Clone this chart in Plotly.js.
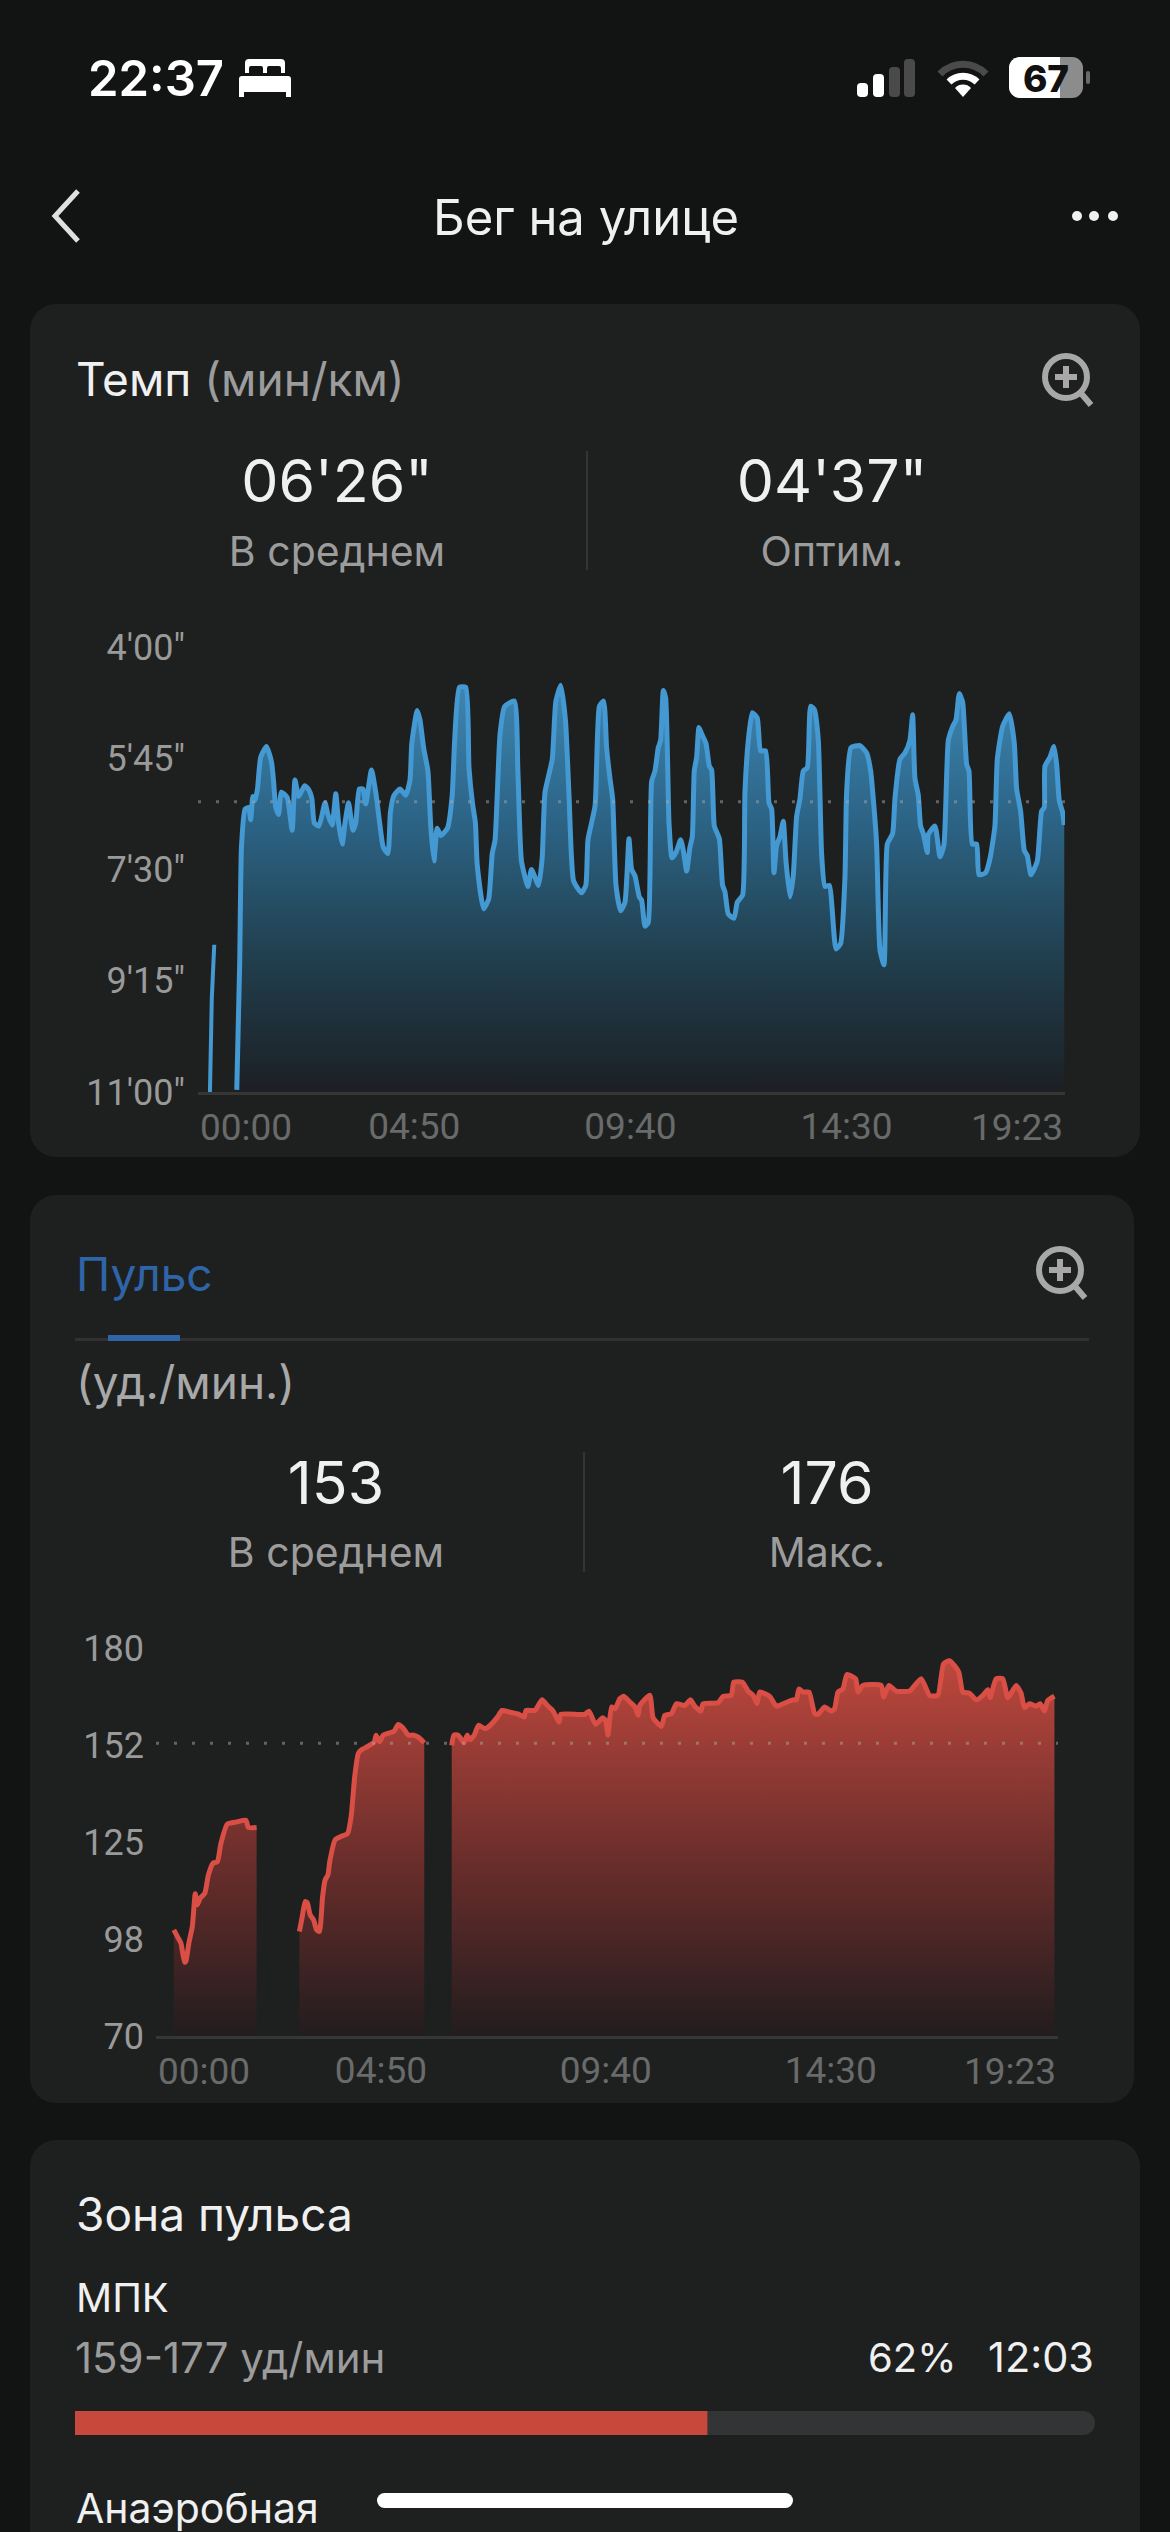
<!DOCTYPE html>
<html lang="ru"><head><meta charset="utf-8">
<script src="https://cdn.plot.ly/plotly-3.0.1.min.js"></script>
<style>
html,body{margin:0;padding:0;width:1170px;height:2532px;background:#121313;overflow:hidden;font-family:Inter,Roboto,sans-serif;color:#f0f0f0}
.card{position:absolute;background:#1e2020;border-radius:26px}
.t{position:absolute;line-height:1;white-space:nowrap;transform:translateY(-50%)}
.c{transform:translate(-50%,-50%)}
.g{color:#9c9c9c}
.big{font-size:59px}
.sub{font-size:41px;color:#9c9c9c}
.div{position:absolute;width:2px;background:#333535}
.plot{position:absolute;left:0;width:1170px}
svg{position:absolute;overflow:visible}
</style></head><body>
<div class="card" style="left:30px;top:304px;width:1110px;height:853px"></div>
<div class="card" style="left:30px;top:1195px;width:1104px;height:908px"></div>
<div class="card" style="left:30px;top:2140px;width:1110px;height:420px"></div>

<div class="t" style="left:88px;top:78px;font-size:49px;font-weight:600;color:#fff">22:37</div>
<svg style="left:239px;top:61px" width="52" height="36" viewBox="0 0 52 36"><path fill="#fff" d="M6 2a4 4 0 0 1 4-4h32a4 4 0 0 1 4 4v10h-4V7a2 2 0 0 0-2-2H30a2 2 0 0 0-2 2v5h-4V7a2 2 0 0 0-2-2H12a2 2 0 0 0-2 2v5H6zM3 15h46a3 3 0 0 1 3 3v18h-5v-5H5v5H0V18a3 3 0 0 1 3-3z"/></svg>
<svg style="left:857px;top:59px" width="58" height="38"><rect x="0" y="24" width="11" height="14" rx="4" fill="#fff"/><rect x="16" y="15" width="11" height="23" rx="4" fill="#fff"/><rect x="32" y="8" width="11" height="30" rx="4" fill="#4a4a4a"/><rect x="47" y="0" width="11" height="38" rx="4" fill="#4a4a4a"/></svg>
<svg style="left:937px;top:60px" width="52" height="37" viewBox="0 0 52 37"><path d="M3 14a32 32 0 0 1 46 0" fill="none" stroke="#4a4a4a" stroke-width="7"/><path d="M12 22a20 20 0 0 1 28 0" fill="none" stroke="#fff" stroke-width="7"/><path d="M26 37l-8-9a11 11 0 0 1 16 0z" fill="#fff"/></svg>
<svg style="left:1009px;top:57px" width="84" height="41"><rect x="0" y="0" width="74" height="41" rx="11" fill="#8c8c8c"/><path d="M11 0h40v41H11a11 11 0 0 1-11-11V11A11 11 0 0 1 11 0z" fill="#fff"/><rect x="77" y="14" width="4" height="13" rx="2" fill="#6a6a6a"/></svg>
<div class="t c" style="left:1046px;top:78px;font-size:37px;font-weight:800;color:#111">67</div>

<svg style="left:0;top:0" width="1170" height="300"><path d="M78 191L55 216L78 241" fill="none" stroke="#e0e0e0" stroke-width="5"/><circle cx="1077" cy="216" r="5" fill="#f0f0f0"/><circle cx="1094" cy="216" r="5" fill="#f0f0f0"/><circle cx="1113" cy="216" r="5" fill="#f0f0f0"/></svg>
<div class="t c" style="left:586px;top:217px;font-size:49px">Бег на улице</div>

<div class="t" style="left:76px;top:379px;font-size:46px">Темп <span class="g">(мин/км)</span></div>
<svg style="left:0;top:0" width="1170" height="1400"><g fill="none" stroke="#a8a8a8" stroke-width="6"><circle cx="1066" cy="377" r="21"/><path d="M1080 392L1091 405M1055 377h22M1066 366v22"/></g><g fill="none" stroke="#a8a8a8" stroke-width="6"><circle cx="1060" cy="1270" r="21"/><path d="M1074 1285L1085 1298M1049 1270h22M1060 1259v22"/></g></svg>
<div class="t c big" style="left:337px;top:480px">06'26"</div>
<div class="t c sub" style="left:337px;top:551px">В среднем</div>
<div class="t c big" style="left:832px;top:480px">04'37"</div>
<div class="t c sub" style="left:832px;top:551px">Оптим.</div>
<div class="div" style="left:586px;top:451px;height:119px"></div>

<div class="t" style="left:76px;top:1274px;font-size:46px;color:#2f65a8">Пульс</div>
<div style="position:absolute;left:75px;top:1338px;width:1014px;height:3px;background:#303232"></div>
<div style="position:absolute;left:108px;top:1335px;width:72px;height:6px;background:#2f65a8"></div>
<div class="t" style="left:76px;top:1382px;font-size:46px;color:#a8a8a8">(уд./мин.)</div>
<div class="t c big" style="left:336px;top:1482px">153</div>
<div class="t c sub" style="left:336px;top:1552px">В среднем</div>
<div class="t c big" style="left:827px;top:1482px">176</div>
<div class="t c sub" style="left:827px;top:1552px">Макс.</div>
<div class="div" style="left:583px;top:1452px;height:120px"></div>

<div class="t" style="left:76px;top:2214px;font-size:46px">Зона пульса</div>
<div class="t" style="left:76px;top:2298px;font-size:40px">МПК</div>
<div class="t g" style="left:75px;top:2358px;font-size:42px">159-177 уд/мин</div>
<div class="t" style="left:868px;top:2358px;font-size:40px">62%</div>
<div class="t" style="left:988px;top:2358px;font-size:41.5px">12:03</div>
<div class="t" style="left:76px;top:2508px;font-size:41px">Анаэробная</div>

<div id="pace" class="plot" style="top:600px;height:560px"></div>
<div id="hr" class="plot" style="top:1620px;height:500px"></div>
<div id="zone" style="position:absolute;left:75px;top:2411px;width:1020px;height:24px"></div>
<div style="position:absolute;left:377px;top:2493px;width:416px;height:15px;border-radius:8px;background:#fff"></div>

<script>
// Pace chart (time in seconds, pace in seconds per km)
var paceSpikeTime=[16,18.5,21.8];
var paceSpikeValue=[660,572,521];
var paceTime=[52,55.9,58.3,63.1,67.8,70.7,73.6,76.5,79.8,84.1,91.8,98.5,101.4,104.3,108.1,111.9,119.6,126.3,130.1,134.9,143.1,147.9,152.7,156,162.2,170.4,174.2,180,184.8,188.6,193.4,197.2,202,207.8,211.6,216.4,221.2,225,232.7,238.4,243.7,248.5,254.7,258.1,262.9,271,278.7,284.4,286.8,294,297.8,302.6,308.4,312.2,316.5,320.9,325.7,334.7,341,344.3,350.6,359.2,363.5,368.3,372.1,374.5,383.1,389.9,394.7,398.5,405.2,411.4,424.3,429.1,433.9,442.6,447.3,456.9,461.7,465.5,475.2,479.9,486.6,492.9,497.7,503.9,514.4,520.2,523.1,532.6,538.4,544.1,548.1,552.6,556.2,560.7,566.9,572.7,578.1,581.7,586.2,592,595.1,599.6,604,608.5,613,617.4,620.6,624.2,627.3,631.8,635.8,641.1,647.4,651,655.5,659.9,663.1,665.7,668.9,672,675.6,681.4,685.9,689,692.6,699.3,703.7,706.9,711.3,719,723.4,730.6,733.7,738.2,743.5,750.2,754.7,761.4,765.9,769.5,772.6,776.2,780.7,785.1,788.7,794.1,798.5,803,807.5,812,817.3,821.8,826.7,832.1,836.5,841,846.8,855.8,862,867.8,870.1,875.9,888,896.9,902.3,905.8,910.3,914.8,920.2,924.6,931.8,934.9,941.6,948.3,955,958.6,961.7,966.2,969.3,972.9,978.3,979.6,988.6,995.3,1000.6,1006.5,1012.3,1016.7,1021.2,1025.7,1031.1,1034.2,1038.6,1044.5,1047.6,1056.5,1062.3,1069,1072.2,1079.3,1088.3,1095,1098.1,1103.5,1108.4,1112.4,1117.3,1125.8,1131.6,1135.2,1136.1,1142.8,1148.2,1151.8,1155.3,1159.8,1162];
var paceValue=[658,539,429,393,391.5,403,381,385,374,344,334,348,367,391.5,398,377,382,413,365.5,381,371,374,383,406,409,387,398,408,378.5,406,426,406,387,413,406,374,374,388,356,377,406,429,435,396,380,374,380,365.5,331,300,309,335,357,409,442,411,418,411,380,328,278,278,354,388,406,445,487,478,435,422,322,296,291,357,442,466,450,465,439,377,346,292,276,309,380,461,472,465,422,390,296,291,335,364,383,465,489,481,421,450,456,476,479,503.5,500,367,357,335,328,281,288,406,439,434,422,432,451.5,429,419,357,344,316,322,331,352.5,356,409,421,465,471,492,496,481,474,377,328,302,307,338,338,387,393,453,427,419,404.5,442,476,456,400,383,357,354,296,299,328,435,466,465,525,520,458,377,335,333,340,357,383,426,526,540,426,416,383,346,340,328,304,364,380,409,416,434,417,409,438,427,328,315,309,284,292,351,357,426,426,455,453,440,409,346,315,303,331,374,395,432,437,455,442,395,391.5,352.5,344,334,351,385,396,408];
var paceTickVals=[240,345,450,555,660];
var paceTickText=["4′00″","5′45″","7′30″","9′15″","11′00″"];
var paceAverage=386;
var paceRange=[660,240];

// Heart-rate chart (time in seconds, beats per minute): three recorded stretches
var hrTimeA=[23,28.5,32.2,36.8,38.6,42.3,46.9,50.6,53.4,57,63,67.6,73.6,79.1,83.7,92,104.4,115.9,119.1,129.7];
var hrValueA=[100.1,97.8,96.3,90.9,91.2,96.3,101.1,110.3,107.2,109.1,110.5,115.7,119,119.4,124.6,130.1,130.7,131.2,129.1,129.1];
var hrTimeB=[184.9,188.6,192.3,195,198.7,203.3,207,210.7,214.8,218,221.7,224,230.9,237.8,247,251.6,256.2,260.8,265.4,272.3,281.5,283.8,288.4,293,306.8,312.3,318.3,325.2,332.1,339,345.9];
var hrValueB=[99.6,103.9,108.1,107.8,104.4,102.9,100.1,99.6,109.5,114.2,115.7,119.4,125.6,126.5,127.4,132.2,143.5,150.1,151.2,152,153.4,155.3,153.4,155.3,156.4,158.3,157.4,155.3,155.3,154.6,153.1];
var hrTimeC=[381.3,384.1,389.6,397.4,401.1,404.8,410.3,415.8,424.1,431,440.2,446.2,456.3,467.8,474.7,477,488.5,497.7,504.6,511.5,519.8,522.1,552.9,558.4,566.7,575.9,579.6,582.8,587.4,592,598,603.2,610.9,617.4,621.7,623.8,636.7,641,651.7,656,664.6,671,681.8,689.1,694.7,702.4,705.4,724.7,731.2,741.9,744.9,756.1,763.4,769.8,775,778.4,791.3,799.9,808.5,821.3,825.6,829.1,834.2,842,849.3,853.5,862.1,870.7,875,879.3,885.7,890.9,902.1,905.1,911.5,935.1,938.1,945,954.4,971.6,986.6,997.4,1008.1,1015.4,1023.1,1029.6,1035.2,1040.3,1048.9,1057.5,1066.1,1072.5,1075.5,1083.2,1091.8,1098.3,1109,1115.4,1119.8,1126.2,1134.8,1139.9,1145.5,1149.8,1158.4];
var hrValueC=[152.4,155.3,155.3,153.1,155.3,154,155.3,158.1,157.1,158.1,160.4,162.3,161.8,161.2,160.4,162.3,162.3,165.3,163.7,162.3,159,161.2,161.2,162.1,158.4,160.2,159.5,155.3,163.3,162.8,165.6,166.3,164.7,163.3,160.9,163.7,166.6,160.2,157.8,160.9,161.4,164.2,163.7,165.3,163.5,162.1,164.2,164.5,166.3,166.6,170.3,170.3,167.8,166.6,164.2,167.5,166.3,163.5,164.2,165.3,165.3,168.4,167.5,167.5,161.4,161.2,163.3,162.1,162.8,167.5,168.4,172.5,171.3,167.5,169.4,169.4,166.1,169.4,167.8,167.8,171.3,166.6,166.6,175.5,176.4,175,173.1,167.5,167.2,165.3,166.6,168.2,165.9,171.3,171.3,165.9,169.4,167.2,163.1,164.2,163.5,164.2,162.1,165.1,166.3];
var hrTickVals=[70,97.5,125,152.5,180];
var hrTickText=["70","98","125","152","180"];
var hrAverage=153;
var hrRange=[70,180];

var timeTickVals=[290,580,870];
var timeTickText=["04:50","09:40","14:30"];
var timeStart="00:00", timeEnd="19:23", timeEndValue=1163;

// Heart-rate zone
var zoneName="МПК", zoneShare=62, zoneTotal=100;

var FONT="Roboto, Inter, sans-serif";
var xFont={family:FONT,size:37,color:"#696b6b"};
function baseLayout(m,yAxis){
  return {
    margin:m,paper_bgcolor:"rgba(0,0,0,0)",plot_bgcolor:"rgba(0,0,0,0)",showlegend:false,
    xaxis:{range:[0,timeEndValue],tickmode:"array",tickvals:timeTickVals,ticktext:timeTickText,
      showgrid:false,zeroline:false,showline:true,linecolor:"#353737",linewidth:3,ticks:"",
      tickfont:xFont,ticklabelstandoff:0,fixedrange:true},
    yaxis:Object.assign({tickmode:"array",showgrid:false,zeroline:false,showline:false,ticks:"",
      tickfont:{family:FONT,size:36,color:"#9a9a9a"},fixedrange:true},yAxis),
    annotations:[
      {xref:"x",yref:"paper",x:0,y:0,xanchor:"left",yanchor:"top",yshift:-12,text:timeStart,showarrow:false,font:xFont},
      {xref:"x",yref:"paper",x:timeEndValue,y:0,xanchor:"right",yanchor:"top",yshift:-12,text:timeEnd,showarrow:false,font:xFont}
    ]
  };
}
var dots={color:"rgba(165,165,165,0.5)",width:3,dash:"3px,15px"};
var cfg={staticPlot:true,displayModeBar:false};
var paceLine={color:"#4499d2",width:5,shape:"spline",smoothing:0.5};

var bl=[paceTime[0],paceTime[paceTime.length-1]];
Plotly.newPlot("pace",[
  {x:bl,y:[660,660],mode:"lines",line:{width:0},hoverinfo:"skip"},
  {x:paceTime,y:paceValue,mode:"lines",fill:"tonexty",
    fillgradient:{type:"vertical",start:276,stop:660,colorscale:[[0,"#3d86b2"],[0.33,"#2c6486"],[0.66,"#21404f"],[1,"#1c1f24"]]},
    line:paceLine},
  {x:paceSpikeTime,y:paceSpikeValue,mode:"lines",line:{color:"#4499d2",width:4}},
  {x:[0,timeEndValue],y:[paceAverage,paceAverage],mode:"lines",line:dots}
],baseLayout({l:198,r:105,t:47,b:67.5,pad:0},{range:paceRange,tickvals:paceTickVals,ticktext:paceTickText,ticklabelstandoff:12}),cfg);

function hrTrace(x,y){
  return {x:x,y:y,mode:"lines",fill:"tozeroy",
    fillgradient:{type:"vertical",start:176,stop:70,colorscale:[[0,"#bd473d"],[0.5,"#6f2f2c"],[1,"#221c1e"]]},
    line:{color:"#d94f45",width:5,shape:"spline",smoothing:0.5}};
}
Plotly.newPlot("hr",[
  hrTrace(hrTimeA,hrValueA),hrTrace(hrTimeB,hrValueB),hrTrace(hrTimeC,hrValueC),
  {x:[0,timeEndValue],y:[hrAverage,hrAverage],mode:"lines",line:dots}
],baseLayout({l:155.7,r:112,t:27.5,b:83.5,pad:0},{range:hrRange,tickvals:hrTickVals,ticktext:hrTickText,ticklabelstandoff:11}),cfg);

Plotly.newPlot("zone",[
  {type:"bar",orientation:"h",x:[zoneTotal],y:[zoneName],width:1,marker:{color:"#333436"},hoverinfo:"skip"},
  {type:"bar",orientation:"h",x:[zoneShare],y:[zoneName],width:1,marker:{color:"#c8483c"},hoverinfo:"skip"}
],{margin:{l:0,r:0,t:0,b:0},barmode:"overlay",barcornerradius:12,paper_bgcolor:"rgba(0,0,0,0)",plot_bgcolor:"rgba(0,0,0,0)",showlegend:false,
  xaxis:{range:[0,zoneTotal],visible:false,fixedrange:true},yaxis:{visible:false,range:[-0.5,0.5],fixedrange:true}},cfg);
</script>
</body></html>
